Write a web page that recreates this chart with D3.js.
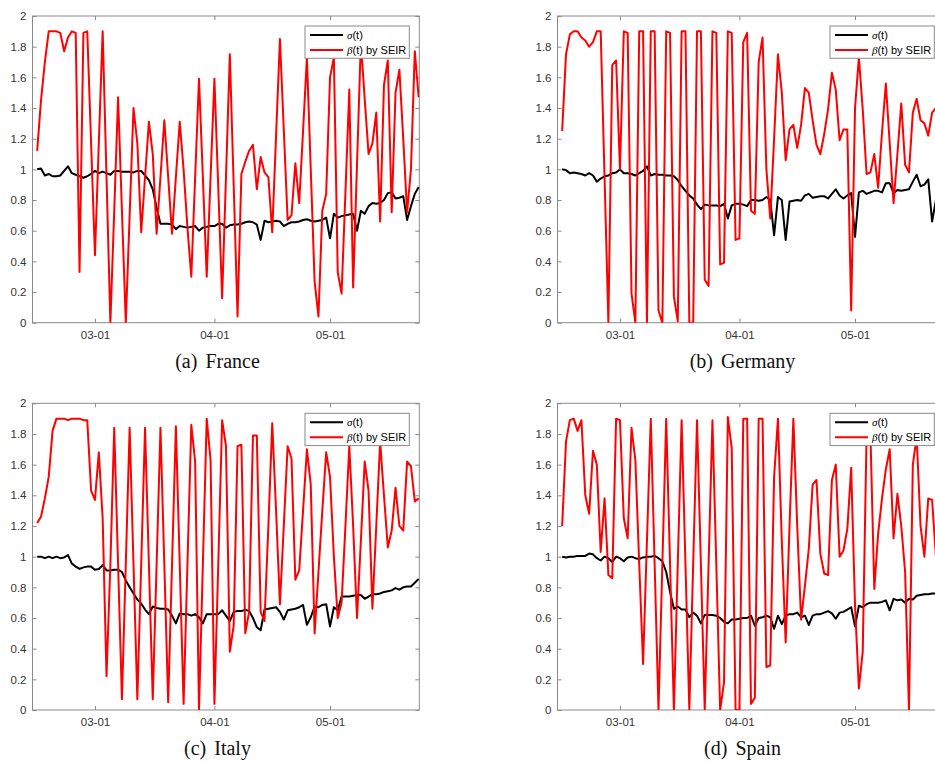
<!DOCTYPE html>
<html>
<head>
<meta charset="utf-8">
<script src="https://cdn.jsdelivr.net/npm/d3@7"></script>
<style>
  body { margin: 0; background: #fff; overflow: hidden; }
  svg { display: block; }
</style>
</head>
<body>
<div id="chart"></div>
<script>
// ---- data -------------------------------------------------------------
// one value per day, 2020-02-15 .. 2020-05-24
var firstDay = new Date(2020, 1, 15);
var lastDay = new Date(2020, 4, 24);

var xTickDates = [new Date(2020, 2, 1), new Date(2020, 3, 1), new Date(2020, 4, 1)];
var xTickLabels = ["03-01", "04-01", "05-01"];
var yTicks = [0, 0.2, 0.4, 0.6, 0.8, 1, 1.2, 1.4, 1.6, 1.8, 2];
var yTickLabels = ["0", "0.2", "0.4", "0.6", "0.8", "1", "1.2", "1.4", "1.6", "1.8", "2"];

var panelTags = ["(a)", "(b)", "(c)", "(d)"];
var countries = ["France", "Germany", "Italy", "Spain"];
var seriesNames = ["\u03c3", "\u03b2"];

var sigmaFrance = [1.0, 1.005, 0.96, 0.97, 0.955, 0.955, 0.96, 0.99, 1.02, 0.975,
  0.965, 0.955, 0.945, 0.955, 0.97, 0.99, 0.975, 0.985, 0.975, 0.965,
  0.99, 0.99, 0.985, 0.985, 0.985, 0.98, 0.99, 0.99, 0.96, 0.93,
  0.87, 0.75, 0.645, 0.645, 0.645, 0.64, 0.61, 0.63, 0.625, 0.62,
  0.625, 0.63, 0.6, 0.62, 0.625, 0.63, 0.63, 0.645, 0.645, 0.62,
  0.635, 0.64, 0.64, 0.645, 0.655, 0.66, 0.655, 0.64, 0.54, 0.665,
  0.655, 0.66, 0.665, 0.66, 0.63, 0.645, 0.655, 0.655, 0.66, 0.67,
  0.675, 0.665, 0.66, 0.665, 0.67, 0.685, 0.55, 0.71, 0.685, 0.695,
  0.7, 0.705, 0.71, 0.6, 0.73, 0.71, 0.76, 0.78, 0.775, 0.78,
  0.8, 0.845, 0.85, 0.81, 0.815, 0.825, 0.67, 0.76, 0.84, 0.885];
var betaFrance = [1.12, 1.45, 1.7, 1.9, 1.9, 1.9, 1.89, 1.77, 1.86, 1.9,
  1.89, 0.33, 1.89, 1.9, 1.17, 0.44, 1.17, 1.9, 0.95, 0.0,
  0.73, 1.47, 0.73, 0.0, 0.7, 1.4, 1.17, 0.59, 0.95, 1.31,
  1.1, 0.58, 0.95, 1.32, 0.95, 0.58, 0.95, 1.31, 1.0, 0.62,
  0.3, 0.95, 1.59, 0.95, 0.3, 0.95, 1.59, 0.88, 0.16, 0.95,
  1.75, 0.9, 0.04, 0.97, 1.05, 1.12, 1.16, 0.87, 1.08, 0.98,
  0.95, 0.59, 1.22, 1.85, 1.26, 0.67, 0.7, 1.04, 0.78, 1.25,
  1.73, 1.0, 0.27, 0.04, 0.73, 0.84, 1.6, 1.73, 0.33, 0.19,
  0.85, 1.52, 0.23, 1.03, 1.83, 1.46, 1.1, 1.17, 1.37, 0.66,
  1.55, 1.71, 0.72, 1.5, 1.65, 1.2, 0.72, 1.0, 1.77, 1.47];

var sigmaGermany = [1.0, 0.995, 0.975, 0.98, 0.975, 0.97, 0.96, 0.975, 0.96, 0.92,
  0.94, 0.955, 0.96, 0.975, 0.98, 1.0, 0.975, 0.975, 0.97, 0.96,
  0.975, 0.99, 1.02, 0.96, 0.97, 0.965, 0.965, 0.96, 0.96, 0.955,
  0.93, 0.89, 0.86, 0.83, 0.81, 0.77, 0.74, 0.77, 0.765, 0.765,
  0.765, 0.76, 0.775, 0.68, 0.765, 0.775, 0.775, 0.77, 0.76, 0.8,
  0.8, 0.795, 0.8, 0.82, 0.8, 0.57, 0.82, 0.8, 0.54, 0.79,
  0.795, 0.8, 0.795, 0.83, 0.84, 0.815, 0.82, 0.825, 0.825, 0.81,
  0.84, 0.87, 0.83, 0.81, 0.83, 0.845, 0.56, 0.85, 0.86, 0.84,
  0.85, 0.86, 0.86, 0.85, 0.91, 0.91, 0.845, 0.865, 0.86, 0.865,
  0.87, 0.92, 0.965, 0.89, 0.9, 0.935, 0.66, 0.8, 0.85, 0.87];
var betaGermany = [1.25, 1.75, 1.88, 1.9, 1.9, 1.86, 1.84, 1.8, 1.83, 1.9,
  1.9, 0.95, 0.0, 1.68, 1.71, 1.0, 1.9, 1.89, 0.19, 0.0,
  1.9, 1.9, 0.0, 1.9, 1.9, 0.08, 0.0, 1.9, 1.89, 0.17,
  0.01, 1.9, 1.9, 0.0, 0.0, 1.9, 1.9, 0.28, 0.24, 1.9,
  1.89, 0.38, 0.39, 1.9, 1.89, 0.54, 0.55, 1.83, 1.89, 0.73,
  0.71, 1.7, 1.86, 1.0, 0.68, 1.2, 1.75, 1.5, 1.06, 1.26,
  1.29, 1.14, 1.29, 1.53, 1.5, 1.32, 1.16, 1.1, 1.23, 1.39,
  1.63, 1.52, 1.19, 1.26, 1.26, 0.08, 1.4, 1.73, 1.39, 0.97,
  0.98, 1.1, 0.88, 1.24, 1.56, 1.17, 0.78, 1.1, 1.43, 1.03,
  0.98, 1.37, 1.46, 1.32, 1.3, 1.22, 1.37, 1.4, 1.35, 1.3];

var sigmaItaly = [1.0, 1.0, 0.99, 1.0, 0.99, 1.0, 0.99, 0.995, 1.01, 0.955,
  0.935, 0.92, 0.93, 0.935, 0.935, 0.915, 0.92, 0.945, 0.91, 0.91,
  0.915, 0.915, 0.9, 0.845, 0.8, 0.76, 0.72, 0.695, 0.655, 0.625,
  0.675, 0.665, 0.66, 0.66, 0.655, 0.615, 0.565, 0.63, 0.625, 0.625,
  0.615, 0.625, 0.605, 0.565, 0.625, 0.625, 0.625, 0.625, 0.65, 0.615,
  0.58, 0.64, 0.645, 0.645, 0.655, 0.645, 0.6, 0.54, 0.52, 0.655,
  0.66, 0.665, 0.67, 0.64, 0.59, 0.65, 0.655, 0.66, 0.67, 0.685,
  0.555, 0.605, 0.675, 0.67, 0.685, 0.69, 0.545, 0.67, 0.65, 0.74,
  0.74, 0.74, 0.745, 0.75, 0.75, 0.725, 0.74, 0.755, 0.755, 0.76,
  0.77, 0.775, 0.78, 0.795, 0.785, 0.8, 0.805, 0.805, 0.83, 0.855];
var betaItaly = [1.22, 1.26, 1.38, 1.52, 1.82, 1.9, 1.9, 1.9, 1.89, 1.9,
  1.9, 1.9, 1.89, 1.89, 1.43, 1.37, 1.68, 1.25, 0.22, 0.95,
  1.84, 0.95, 0.07, 0.95, 1.84, 0.95, 0.07, 0.95, 1.84, 0.95,
  0.07, 0.95, 1.84, 0.95, 0.05, 0.95, 1.85, 0.95, 0.04, 0.95,
  1.86, 1.62, 0.0, 0.95, 1.9, 1.63, 0.04, 0.95, 1.89, 1.72,
  0.38, 0.55, 1.72, 1.73, 0.5, 0.64, 1.79, 1.79, 0.64, 0.58,
  1.2, 1.87, 1.3, 0.69, 1.2, 1.72, 1.64, 0.85, 0.91, 1.3,
  1.7, 1.47, 0.5, 0.9, 1.3, 1.68, 1.52, 1.0, 0.6, 0.7,
  1.2, 1.72, 1.2, 0.6, 1.1, 1.62, 1.43, 0.66, 1.2, 1.75,
  1.4, 1.06, 1.17, 1.45, 1.2, 1.17, 1.62, 1.59, 1.36, 1.38];

var sigmaSpain = [1.0, 0.995, 1.0, 1.0, 1.005, 1.005, 1.005, 1.02, 1.015, 0.99,
  0.975, 1.0, 0.99, 0.965, 1.0, 0.99, 0.97, 0.995, 1.0, 0.99,
  0.985, 0.995, 1.0, 1.0, 1.005, 0.99, 0.97, 0.9, 0.77, 0.66,
  0.675, 0.655, 0.655, 0.605, 0.635, 0.615, 0.565, 0.62, 0.62, 0.62,
  0.615, 0.6, 0.575, 0.565, 0.59, 0.59, 0.595, 0.6, 0.6, 0.615,
  0.55, 0.6, 0.605, 0.615, 0.605, 0.53, 0.615, 0.56, 0.615, 0.625,
  0.625, 0.635, 0.605, 0.615, 0.555, 0.615, 0.625, 0.625, 0.635, 0.645,
  0.63, 0.595, 0.635, 0.64, 0.655, 0.67, 0.545, 0.68, 0.67, 0.69,
  0.7, 0.7, 0.7, 0.705, 0.715, 0.65, 0.725, 0.715, 0.72, 0.7,
  0.725, 0.72, 0.745, 0.75, 0.755, 0.755, 0.76, 0.76, 0.765, 0.77];
var betaSpain = [1.2, 1.75, 1.89, 1.9, 1.82, 1.89, 1.4, 1.28, 1.69, 1.6,
  1.03, 1.38, 0.88, 0.86, 1.9, 1.89, 1.25, 1.12, 1.84, 1.63,
  0.95, 0.3, 1.1, 1.9, 0.95, 0.0, 0.95, 1.9, 0.95, 0.0,
  0.95, 1.89, 0.95, 0.0, 0.95, 1.89, 0.95, 0.0, 0.95, 1.89,
  0.95, 0.0, 0.18, 1.91, 1.71, 0.0, 0.0, 1.9, 1.9, 0.04,
  0.08, 1.9, 1.9, 0.28, 0.29, 1.52, 1.9, 1.1, 0.44, 1.2,
  1.9, 1.2, 0.59, 0.81, 1.05, 1.47, 1.5, 1.02, 0.89, 0.88,
  1.5, 1.6, 1.0, 1.04, 1.18, 1.58, 0.68, 0.14, 0.38, 1.8,
  1.8, 0.79, 1.15, 1.38, 1.57, 1.7, 1.12, 1.41, 1.2, 0.9,
  0.0, 1.6, 1.78, 1.2, 1.0, 1.38, 1.37, 1.0, 1.2, 1.3];

var sigmaSeries = [sigmaFrance, sigmaGermany, sigmaItaly, sigmaSpain];
var betaSeries = [betaFrance, betaGermany, betaItaly, betaSpain];

// ---- layout -----------------------------------------------------------
var W = 935, H = 762;
var plotW = 386.8, plotH = 306.7;
var origins = [[32.5, 16], [557.5, 16], [32.5, 403.3], [557.5, 403.3]];
var captionX = [217.5, 742.5, 217.5, 742.5];

var days = d3.timeDay.range(firstDay, d3.timeDay.offset(lastDay, 1));

var svg = d3.select("#chart").append("svg")
  .attr("width", W)
  .attr("height", H)
  .attr("viewBox", "0 0 " + W + " " + H);

// escaladores (same for all four panels)
var x = d3.scaleTime()
  .domain([new Date(2020, 1, 13, 19), new Date(2020, 4, 24, 4)])
  .range([0, plotW]);
var y = d3.scaleLinear().domain([0, 2]).range([plotH, 0]);

var axisColor = "#8a8a8a";
var textColor = "#333";
var tickFont = "Liberation Sans, Arial, sans-serif";

var line = d3.line()
  .x(function (d, i) { return x(days[i]); })
  .y(function (d) { return y(d); });

countries.forEach(function (country, p) {
  var g = svg.append("g")
    .attr("transform", "translate(" + origins[p][0] + "," + origins[p][1] + ")");

  g.append("clipPath").attr("id", "clip" + p)
    .append("rect").attr("width", plotW).attr("height", plotH);

  // ejes: ticks inward on all four sides
  g.append("g")
    .attr("transform", "translate(0," + plotH + ")")
    .call(d3.axisBottom(x).tickValues(xTickDates)
      .tickFormat(function (d, i) { return xTickLabels[i]; })
      .tickSizeInner(-4).tickSizeOuter(0).tickPadding(8));
  g.append("g")
    .call(d3.axisTop(x).tickValues(xTickDates).tickFormat("")
      .tickSizeInner(-4).tickSizeOuter(0));
  g.append("g")
    .call(d3.axisLeft(y).tickValues(yTicks)
      .tickFormat(function (d, i) { return yTickLabels[i]; })
      .tickSizeInner(-4).tickSizeOuter(0).tickPadding(6));
  g.append("g")
    .attr("transform", "translate(" + plotW + ",0)")
    .call(d3.axisRight(y).tickValues(yTicks).tickFormat("")
      .tickSizeInner(-4).tickSizeOuter(0));

  g.selectAll(".domain").remove();
  g.selectAll(".tick line").attr("stroke", axisColor);
  g.selectAll(".tick text")
    .attr("fill", textColor)
    .attr("font-family", tickFont)
    .attr("font-size", "11.5px");

  g.append("rect")
    .attr("width", plotW).attr("height", plotH)
    .attr("fill", "none")
    .attr("stroke", axisColor)
    .attr("stroke-width", 1);

  // curvas
  var lines = g.append("g").attr("clip-path", "url(#clip" + p + ")");
  lines.append("path")
    .datum(sigmaSeries[p])
    .attr("d", line)
    .attr("fill", "none")
    .attr("stroke", "#000")
    .attr("stroke-width", 2)
    .attr("stroke-linejoin", "round");
  lines.append("path")
    .datum(betaSeries[p])
    .attr("d", line)
    .attr("fill", "none")
    .attr("stroke", "#ff0000")
    .attr("stroke-width", 2)
    .attr("stroke-linejoin", "round");

  // leyenda
  var leg = g.append("g").attr("transform", "translate(" + (plotW - 114.3) + ",10)");
  leg.append("rect")
    .attr("width", 104.3).attr("height", 32.3)
    .attr("fill", "#fff")
    .attr("stroke", axisColor);
  var legColors = ["#000", "#ff0000"];
  var legRest = ["(t)", "(t) by SEIR"];
  seriesNames.forEach(function (s, k) {
    var ly = 9 + k * 15;
    leg.append("line")
      .attr("x1", 5).attr("x2", 38)
      .attr("y1", ly).attr("y2", ly)
      .attr("stroke", legColors[k])
      .attr("stroke-width", 2);
    var t = leg.append("text")
      .attr("x", 42).attr("y", ly + 4)
      .attr("font-family", tickFont)
      .attr("font-size", "11px")
      .attr("fill", "#000");
    t.append("tspan").attr("font-style", "italic")
      .attr("font-family", "Liberation Serif, serif").text(s);
    t.append("tspan").text(legRest[k]);
  });

  // caption below the panel
  var cap = svg.append("text")
    .attr("x", captionX[p])
    .attr("y", origins[p][1] + plotH + 45)
    .attr("text-anchor", "middle")
    .attr("font-family", "Liberation Serif, Times New Roman, serif")
    .attr("font-size", "20px")
    .attr("fill", "#111");
  cap.append("tspan").text(panelTags[p]);
  cap.append("tspan").attr("dx", 8).text(country);
});
</script>
</body>
</html>
